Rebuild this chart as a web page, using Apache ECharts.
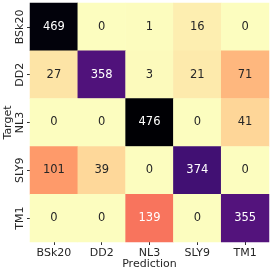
<!DOCTYPE html>
<html><head><meta charset="utf-8">
<script src="https://cdn.jsdelivr.net/npm/echarts@6/dist/echarts.min.js"></script>
<style>html,body{margin:0;padding:0;background:#fff}#c{width:273px;height:273px}</style>
</head><body><div id="c"></div>
<script>
const predictions = ['BSk20','DD2','NL3','SLY9','TM1'];
const targets = ['BSk20','DD2','NL3','SLY9','TM1'];
const rowBSk20 = [469, 0, 1, 16, 0];
const rowDD2 = [27, 358, 3, 21, 71];
const rowNL3 = [0, 0, 476, 0, 41];
const rowSLY9 = [101, 39, 0, 374, 0];
const rowTM1 = [0, 0, 139, 0, 355];
const rows = [rowBSk20, rowDD2, rowNL3, rowSLY9, rowTM1];

const magma = ['#000004','#07061c','#140e36','#251255','#3b0f70','#51127c','#641a80','#782281','#8c2981','#a1307e','#b73779','#cb3e71','#de4968','#ed5a5f','#f7705c','#fc8961','#fe9f6d','#feb77e','#fecf92','#fde7a9','#fcfdbf'];
const magmaR = magma.slice().reverse();
const vmax = 476;

const data = [];
rows.forEach((r, i) => r.forEach((v, j) => {
  data.push({value: [j, i, v], label: {color: v > 120 ? '#ffffff' : '#262626'}});
}));

const chart = echarts.init(document.getElementById('c'), null, {renderer: 'canvas'});
const ff = 'DejaVu Sans';
chart.setOption({
  animation: false,
  textStyle: {fontFamily: ff},
  grid: {left: 30, top: 3, width: 239, height: 239, containLabel: false, outerBoundsMode: 'none'},
  xAxis: {
    type: 'category', data: predictions, position: 'bottom',
    name: 'Prediction', nameLocation: 'middle', nameGap: 17, nameMoveOverlap: false,
    nameTextStyle: {fontFamily: ff, fontSize: 11, color: '#262626', verticalAlign: 'top'},
    axisLine: {show: false}, splitArea: {show: false}, splitLine: {show: false},
    axisTick: {show: true, alignWithLabel: true, length: 3, lineStyle: {color: '#333'}},
    axisLabel: {fontFamily: ff, fontSize: 11, color: '#262626', margin: 6}
  },
  yAxis: {
    type: 'category', data: targets, inverse: true,
    name: 'Target', nameLocation: 'middle', nameGap: 16, nameRotate: 90, nameMoveOverlap: false,
    nameTextStyle: {fontFamily: ff, fontSize: 11, color: '#262626', verticalAlign: 'bottom'},
    axisLine: {show: false}, splitArea: {show: false}, splitLine: {show: false},
    axisTick: {show: true, alignWithLabel: true, length: 3, lineStyle: {color: '#333'}},
    axisLabel: {fontFamily: ff, fontSize: 11, color: '#262626', rotate: 90, margin: 4}
  },
  visualMap: {show: false, min: 0, max: vmax, dimension: 2, inRange: {color: magmaR}},
  series: [{
    type: 'heatmap', data: data,
    label: {show: true, fontFamily: ff, fontSize: 11.5},
    itemStyle: {borderWidth: 0}
  }]
});
</script></body></html>
